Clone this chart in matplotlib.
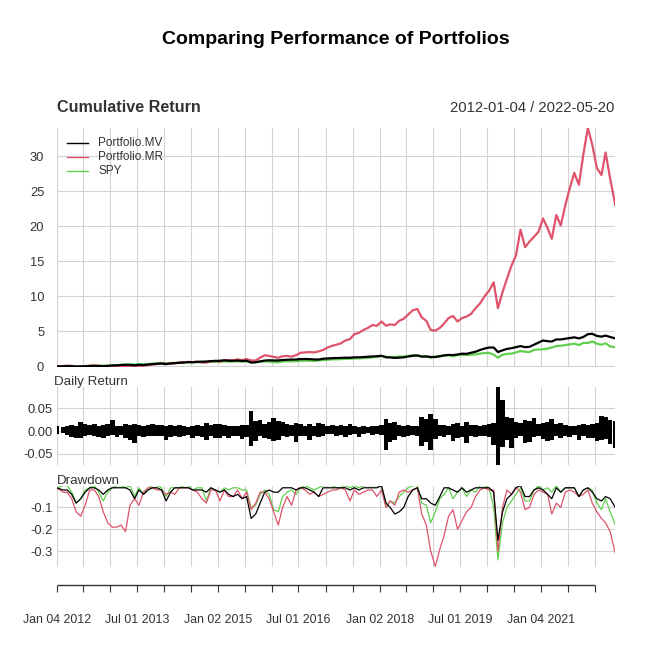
import pandas as pd
import matplotlib
matplotlib.use("Agg")
import matplotlib.pyplot as plt
from matplotlib.lines import Line2D

plt.rcParams['font.family'] = ['Liberation Sans', 'DejaVu Sans']

# monthly readings, Jan 2012 .. May 2022 (125 months)
mv_cum = [0.00, 0.02, 0.04, 0.03, -0.02, 0.00, 0.03, 0.05, 0.07, 0.06, 0.04, 0.08,
          0.14, 0.16, 0.20, 0.24, 0.22, 0.16, 0.24, 0.20, 0.27, 0.34, 0.38, 0.42,
          0.33, 0.42, 0.48, 0.52, 0.56, 0.62, 0.60, 0.66, 0.68, 0.70, 0.76, 0.78,
          0.82, 0.86, 0.82, 0.80, 0.84, 0.78, 0.82, 0.55, 0.60, 0.72, 0.84, 0.88,
          0.85, 0.86, 0.92, 0.95, 0.98, 0.99, 1.05, 1.06, 1.04, 1.00, 0.98, 1.10,
          1.14, 1.18, 1.20, 1.22, 1.25, 1.24, 1.30, 1.30, 1.34, 1.38, 1.42, 1.46,
          1.52, 1.30, 1.28, 1.22, 1.25, 1.30, 1.42, 1.52, 1.56, 1.40, 1.42, 1.35,
          1.34, 1.45, 1.58, 1.64, 1.62, 1.70, 1.82, 1.80, 1.95, 2.10, 2.35, 2.55,
          2.70, 2.70, 2.05, 2.30, 2.50, 2.60, 2.75, 2.90, 2.75, 2.80, 3.10, 3.40,
          3.70, 3.60, 3.55, 3.85, 3.85, 3.95, 4.05, 4.15, 4.00, 4.20, 4.60, 4.65,
          4.35, 4.25, 4.40, 4.20, 4.00]
mr_cum = [0.00, 0.05, 0.10, 0.06, -0.02, -0.05, 0.00, 0.12, 0.15, 0.10, 0.00, -0.05,
          -0.07, -0.07, -0.06, -0.08, 0.05, 0.09, 0.05, 0.13, 0.20, 0.28, 0.35, 0.42,
          0.37, 0.45, 0.42, 0.55, 0.60, 0.65, 0.62, 0.66, 0.58, 0.55, 0.75, 0.80,
          0.70, 0.92, 0.88, 0.90, 1.00, 0.90, 1.05, 0.85, 0.85, 1.25, 1.60, 1.50,
          1.35, 1.25, 1.45, 1.50, 1.40, 1.60, 1.95, 2.00, 2.05, 2.00, 2.15, 2.35,
          2.70, 2.95, 3.10, 3.30, 3.70, 3.90, 4.60, 4.80, 5.20, 5.50, 5.90, 5.80,
          6.40, 5.80, 6.00, 5.90, 6.50, 6.80, 7.40, 8.00, 8.20, 7.00, 6.50, 5.20,
          5.10, 5.50, 6.10, 6.90, 7.20, 6.40, 6.90, 7.10, 7.50, 8.30, 9.00, 10.00,
          10.80, 12.00, 8.30, 10.60, 12.50, 14.40, 15.80, 19.50, 17.00, 17.80, 18.50, 19.20,
          21.10, 19.70, 18.20, 21.60, 20.10, 23.00, 25.40, 27.60, 25.90, 30.20, 34.00, 31.60,
          28.30, 27.30, 30.50, 26.80, 23.00]
spy_cum = [0.00, 0.04, 0.08, 0.07, 0.01, 0.04, 0.05, 0.08, 0.11, 0.09, 0.10, 0.11,
           0.17, 0.19, 0.24, 0.26, 0.29, 0.27, 0.34, 0.30, 0.34, 0.40, 0.45, 0.49,
           0.43, 0.50, 0.51, 0.52, 0.56, 0.59, 0.57, 0.63, 0.60, 0.64, 0.68, 0.68,
           0.63, 0.72, 0.69, 0.71, 0.73, 0.69, 0.73, 0.62, 0.58, 0.71, 0.72, 0.69,
           0.61, 0.60, 0.71, 0.72, 0.75, 0.75, 0.82, 0.82, 0.82, 0.79, 0.86, 0.90,
           0.94, 1.02, 1.02, 1.04, 1.08, 1.10, 1.14, 1.15, 1.20, 1.23, 1.30, 1.35,
           1.48, 1.39, 1.33, 1.34, 1.40, 1.41, 1.50, 1.58, 1.59, 1.42, 1.45, 1.24,
           1.41, 1.48, 1.51, 1.62, 1.45, 1.63, 1.66, 1.62, 1.67, 1.73, 1.83, 1.92,
           1.92, 1.69, 1.24, 1.66, 1.79, 1.83, 1.99, 2.20, 2.10, 2.06, 2.35, 2.42,
           2.45, 2.55, 2.70, 2.90, 2.95, 3.05, 3.15, 3.25, 3.05, 3.35, 3.35, 3.55,
           3.25, 3.10, 3.30, 2.85, 2.75]

# Portfolio.MV daily returns: largest gain / loss seen in each month
mv_ret_hi = [0.012, 0.010, 0.011, 0.014, 0.012, 0.019, 0.016, 0.013, 0.015, 0.012, 0.014, 0.016,
             0.024, 0.012, 0.011, 0.015, 0.014, 0.016, 0.013, 0.012, 0.014, 0.016, 0.013, 0.014,
             0.012, 0.014, 0.011, 0.013, 0.012, 0.010, 0.011, 0.014, 0.012, 0.017, 0.013, 0.015,
             0.015, 0.013, 0.012, 0.011, 0.012, 0.013, 0.014, 0.045, 0.022, 0.025, 0.016, 0.020,
             0.028, 0.022, 0.020, 0.015, 0.013, 0.017, 0.016, 0.012, 0.015, 0.011, 0.018, 0.016,
             0.012, 0.013, 0.011, 0.014, 0.012, 0.016, 0.011, 0.010, 0.012, 0.010, 0.011, 0.012,
             0.013, 0.026, 0.018, 0.020, 0.014, 0.012, 0.013, 0.011, 0.012, 0.030, 0.027, 0.037,
             0.026, 0.013, 0.014, 0.012, 0.015, 0.017, 0.012, 0.020, 0.013, 0.014, 0.012, 0.013,
             0.016, 0.018, 0.098, 0.068, 0.030, 0.028, 0.020, 0.018, 0.025, 0.022, 0.028, 0.015,
             0.018, 0.020, 0.026, 0.015, 0.017, 0.013, 0.012, 0.011, 0.014, 0.015, 0.013, 0.016,
             0.018, 0.033, 0.032, 0.025, 0.022]
mv_ret_lo = [-0.006, -0.005, -0.008, -0.013, -0.015, -0.016, -0.012, -0.008, -0.010, -0.014, -0.015, -0.012,
             -0.008, -0.013, -0.009, -0.016, -0.020, -0.027, -0.012, -0.014, -0.011, -0.012, -0.010, -0.012,
             -0.020, -0.013, -0.012, -0.014, -0.010, -0.008, -0.015, -0.012, -0.013, -0.020, -0.010, -0.016,
             -0.016, -0.012, -0.015, -0.011, -0.012, -0.018, -0.014, -0.033, -0.022, -0.012, -0.015, -0.018,
             -0.022, -0.020, -0.012, -0.013, -0.012, -0.024, -0.010, -0.011, -0.020, -0.012, -0.014, -0.010,
             -0.006, -0.007, -0.012, -0.008, -0.014, -0.009, -0.007, -0.013, -0.006, -0.005, -0.008, -0.006,
             -0.008, -0.042, -0.024, -0.020, -0.012, -0.014, -0.010, -0.009, -0.011, -0.033, -0.024, -0.042,
             -0.018, -0.010, -0.013, -0.009, -0.022, -0.015, -0.014, -0.026, -0.012, -0.014, -0.010, -0.012,
             -0.014, -0.030, -0.075, -0.035, -0.020, -0.038, -0.015, -0.012, -0.027, -0.024, -0.014, -0.012,
             -0.018, -0.023, -0.020, -0.010, -0.016, -0.012, -0.014, -0.009, -0.020, -0.012, -0.015, -0.016,
             -0.023, -0.020, -0.018, -0.028, -0.038]

mv_dd = [-0.01, -0.02, -0.02, -0.04, -0.08, -0.06, -0.03, -0.01, -0.01, -0.02, -0.04, -0.02,
         -0.01, -0.01, -0.01, -0.01, -0.02, -0.06, -0.02, -0.04, -0.02, -0.01, -0.01, -0.02,
         -0.07, -0.03, -0.01, -0.01, -0.01, -0.01, -0.02, -0.02, -0.02, -0.03, -0.01, -0.02,
         -0.03, -0.02, -0.04, -0.05, -0.04, -0.06, -0.05, -0.15, -0.13, -0.08, -0.03, -0.02,
         -0.03, -0.03, -0.01, -0.01, -0.01, -0.02, -0.01, -0.01, -0.02, -0.03, -0.05, -0.01,
         -0.01, -0.01, -0.01, -0.01, -0.01, -0.02, -0.01, -0.02, -0.01, -0.01, -0.01, -0.01,
         0.00, -0.08, -0.10, -0.13, -0.12, -0.10, -0.05, -0.02, -0.01, -0.06, -0.06, -0.08,
         -0.09, -0.05, -0.01, -0.01, -0.02, -0.03, -0.01, -0.03, -0.02, -0.01, -0.01, -0.01,
         -0.01, -0.03, -0.25, -0.12, -0.06, -0.04, -0.01, 0.00, -0.05, -0.05, -0.02, -0.01,
         -0.02, -0.04, -0.06, -0.01, -0.03, -0.01, -0.01, -0.01, -0.05, -0.02, -0.01, -0.03,
         -0.06, -0.07, -0.05, -0.06, -0.10]
mr_dd = [-0.01, -0.03, -0.03, -0.06, -0.12, -0.14, -0.09, -0.02, -0.02, -0.05, -0.12, -0.17,
         -0.19, -0.19, -0.18, -0.21, -0.09, -0.06, -0.09, -0.03, -0.01, -0.01, -0.02, -0.02,
         -0.04, -0.03, -0.04, -0.01, -0.01, -0.01, -0.02, -0.03, -0.06, -0.08, -0.02, -0.02,
         -0.07, -0.02, -0.05, -0.05, -0.02, -0.06, -0.03, -0.11, -0.08, -0.03, -0.03, -0.06,
         -0.12, -0.18, -0.10, -0.05, -0.09, -0.02, -0.01, -0.02, -0.04, -0.03, -0.05, -0.04,
         -0.03, -0.02, -0.02, -0.01, -0.02, -0.07, -0.02, -0.04, -0.03, -0.02, -0.02, -0.05,
         -0.02, -0.10, -0.07, -0.09, -0.03, -0.02, -0.03, -0.02, -0.01, -0.13, -0.18, -0.30,
         -0.37, -0.29, -0.23, -0.14, -0.11, -0.20, -0.16, -0.12, -0.10, -0.05, -0.02, -0.01,
         -0.02, -0.02, -0.30, -0.10, -0.02, -0.04, -0.01, -0.03, -0.11, -0.10, -0.04, -0.02,
         -0.03, -0.04, -0.13, -0.08, -0.10, -0.03, -0.02, -0.03, -0.05, -0.04, -0.02, -0.08,
         -0.12, -0.15, -0.17, -0.21, -0.31]
spy_dd = [-0.01, 0.00, 0.00, -0.03, -0.08, -0.06, -0.02, -0.01, 0.00, -0.03, -0.07, -0.03,
          -0.01, 0.00, 0.00, -0.01, 0.00, -0.05, -0.01, -0.04, -0.01, 0.00, 0.00, -0.01,
          -0.05, -0.01, -0.01, -0.01, 0.00, 0.00, -0.02, -0.01, -0.01, -0.07, -0.01, -0.02,
          -0.03, -0.01, -0.02, -0.01, -0.01, -0.02, -0.02, -0.10, -0.09, -0.04, -0.02, -0.04,
          -0.11, -0.12, -0.05, -0.03, -0.02, -0.04, -0.01, 0.00, -0.01, -0.02, -0.01, 0.00,
          0.00, 0.00, -0.01, -0.01, 0.00, -0.01, 0.00, -0.01, 0.00, 0.00, 0.00, 0.00,
          0.00, -0.10, -0.07, -0.08, -0.05, -0.03, -0.01, 0.00, 0.00, -0.08, -0.09, -0.17,
          -0.12, -0.06, -0.04, -0.01, -0.06, -0.03, -0.01, -0.05, -0.02, -0.03, 0.00, 0.00,
          -0.01, -0.10, -0.34, -0.17, -0.10, -0.07, -0.04, -0.01, -0.07, -0.07, -0.02, 0.00,
          -0.02, -0.01, -0.03, 0.00, -0.03, -0.01, -0.01, -0.01, -0.05, -0.02, -0.01, -0.02,
          -0.08, -0.11, -0.06, -0.12, -0.18]

series_names = ["Portfolio.MV", "Portfolio.MR", "SPY"]
series_colors = ["black", "#DF536B", "#61D04F"]

start, end = "2012-01-04", "2022-05-20"
tick_dates = ["2012-01-04", "2012-07-02", "2013-01-02", "2013-07-01", "2014-01-02",
              "2014-07-01", "2015-01-02", "2015-07-01", "2016-01-04", "2016-07-01",
              "2017-01-03", "2017-07-03", "2018-01-02", "2018-07-02", "2019-01-02",
              "2019-07-01", "2020-01-02", "2020-07-01", "2021-01-04", "2021-07-01",
              "2022-01-03"]

# one point per month, placed mid-month, ends clipped to the data range
dates = pd.date_range("2012-01-01", periods=len(mv_cum), freq="MS") + pd.Timedelta(days=14)
dates = dates.tolist()
dates[0] = pd.Timestamp(start)
dates[-1] = pd.Timestamp(end)
ticks = pd.to_datetime(tick_dates)

TXT = "#333333"
GRID = "#D3D3D3"
W, H = 672, 672


def px_box(top, bottom, left=56.7, right=615.3):
    return [left / W, 1 - bottom / H, (right - left) / W, (bottom - top) / H]


def style_panel(ax, yt, ylabels, pad):
    ax.set_xlim(pd.Timestamp(start), pd.Timestamp(end))
    for s in ax.spines.values():
        s.set_visible(False)
    ax.set_xticks([])
    ax.set_yticks(yt)
    ax.set_yticklabels(ylabels, fontsize=9.3, color=TXT)
    ax.tick_params(axis="y", length=0, pad=pad)
    for t in ticks:
        ax.axvline(t, color=GRID, lw=0.8, zorder=0)
    for y in yt:
        ax.axhline(y, color=GRID, lw=0.8, zorder=0)


fig = plt.figure(figsize=(6.72, 6.72), dpi=100)

fig.text(0.5, 1 - 40 / H, "Comparing Performance of Portfolios", ha="center", va="center",
         fontsize=14, fontweight="bold", color="black")
fig.text(56.5 / W, 1 - 108 / H, "Cumulative Return", ha="left", va="center",
         fontsize=11.6, fontweight="bold", color=TXT)
fig.text(614 / W, 1 - 108 / H, start + " / " + end, ha="right", va="center",
         fontsize=10.6, color=TXT)

# cumulative return panel
ax1 = fig.add_axes(px_box(128, 367))
cums = [mv_cum, mr_cum, spy_cum]
for vals, col, z in zip(cums, series_colors, [4, 3, 2]):
    ax1.plot(dates, vals, color=col, lw=1.6, zorder=z)
lo = min(min(c) for c in cums)
hi = max(max(c) for c in cums)
ax1.set_ylim(lo, hi)
style_panel(ax1, [0, 5, 10, 15, 20, 25, 30], ["0", "5", "10", "15", "20", "25", "30"], 9.0)

for i, (name, col) in enumerate(zip(series_names, series_colors)):
    y = 1 - (142.7 + 14 * i) / H
    fig.add_artist(Line2D([66.7 / W, 88.3 / W], [y, y], color=col, lw=1.0))
    fig.text(98.3 / W, y, name, ha="left", va="center", fontsize=8.5, color=TXT)

# daily return panel
fig.text(53.5 / W, 1 - 384.5 / H, "Daily Return", ha="left", va="baseline", fontsize=9.6, color=TXT)
ax2 = fig.add_axes(px_box(386.7, 465))
ax2.bar(dates, mv_ret_hi, width=31, color="black", lw=0, zorder=3)
ax2.bar(dates, mv_ret_lo, width=31, color="black", lw=0, zorder=3)
ax2.set_ylim(min(mv_ret_lo), max(mv_ret_hi))
style_panel(ax2, [-0.05, 0.0, 0.05], ["-0.05", "0.00", "0.05"], 2.7)

# drawdown panel
fig.text(56.5 / W, 1 - 484.5 / H, "Drawdown", ha="left", va="baseline", fontsize=9.6, color=TXT)
ax3 = fig.add_axes(px_box(485.6, 566.5))
dds = [mv_dd, mr_dd, spy_dd]
for vals, col, z in zip(dds, series_colors, [4, 3, 2]):
    ax3.plot(dates, vals, color=col, lw=0.9, zorder=z)
ax3.set_ylim(min(min(d) for d in dds), 0)
style_panel(ax3, [-0.3, -0.2, -0.1], ["-0.3", "-0.2", "-0.1"], 2.7)

# shared time axis at the bottom
axx = fig.add_axes(px_box(575, 585))
axx.set_xlim(pd.Timestamp(start), pd.Timestamp(end))
axx.set_ylim(0, 1)
for s in axx.spines.values():
    s.set_visible(False)
axx.set_yticks([])
axx.hlines(0, ticks[0], ticks[-1], color=TXT, lw=1.0, clip_on=False)
axx.set_xticks(ticks)
axx.set_xticklabels([t.strftime("%b %d %Y") if i % 3 == 0 else "" for i, t in enumerate(ticks)],
                    fontsize=8.9, color=TXT)
axx.tick_params(axis="x", direction="out", length=5.3, width=0.8, color=TXT, pad=15.5)

fig.savefig("out.png", dpi=100)
